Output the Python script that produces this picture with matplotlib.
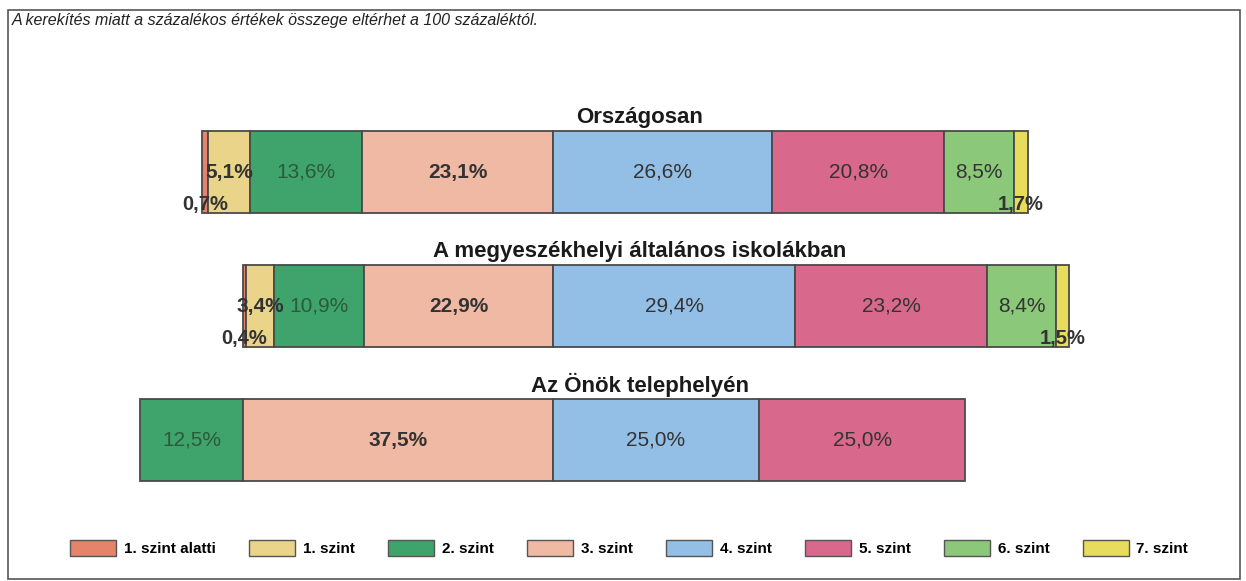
import matplotlib.pyplot as plt
from matplotlib.patches import Patch, Rectangle

plt.rcParams["font.family"] = ["Liberation Sans", "DejaVu Sans"]

szintek = ["1. szint alatti", "1. szint", "2. szint", "3. szint",
           "4. szint", "5. szint", "6. szint", "7. szint"]
szinek = ["#e5836b", "#e9d48a", "#3fa36c", "#f0b9a3",
          "#93bfe6", "#d8688c", "#8cc879", "#e8dc5c"]

csoportok = ["Országosan", "A megyeszékhelyi általános iskolákban",
             "Az Önök telephelyén"]
orszagos = [0.7, 5.1, 13.6, 23.1, 26.6, 20.8, 8.5, 1.7]
megyeszekhely = [0.4, 3.4, 10.9, 22.9, 29.4, 23.2, 8.4, 1.5]
telephely = [0.0, 0.0, 12.5, 37.5, 25.0, 25.0, 0.0, 0.0]

megjegyzes = "A kerekítés miatt a százalékos értékek összege eltérhet a 100 százaléktól."


def felirat(v):
    """Formata o valor com vírgula decimal"""
    return f"{v:.1f}%".replace(".", ",")


def plot_sav(i, ertekek, altura=0.61):
    """Desenha uma barra empilhada centrada entre o 3. e o 4. nível"""
    bal = -sum(ertekek[:4])
    for j, (v, cor) in enumerate(zip(ertekek, szinek)):
        if v <= 0:
            continue
        plt.barh(i, v, left=bal, height=altura, color=cor,
                 edgecolor="#4a4a4a", linewidth=1.3)
        kozep = bal + v / 2
        if v < 2:
            plt.text(kozep, i + 0.24, felirat(v), ha="center", va="center",
                     fontsize=14.5, fontweight="bold", color="#333333")
        elif j == 2:
            plt.text(kozep, i, felirat(v), ha="center", va="center",
                     fontsize=15, color="#2b5a3c")
        else:
            suly = "bold" if j in (1, 3) else "normal"
            plt.text(kozep, i, felirat(v), ha="center", va="center",
                     fontsize=15, fontweight=suly, color="#333333")
        bal += v
    plt.text(10.5, i - 0.41, csoportok[i], ha="center", va="center",
             fontsize=16, fontweight="bold", color="#1a1a1a")


def main():
    largura = 12.46
    altura = 5.81
    fig = plt.figure(figsize=(largura, altura), dpi=100)
    ax = plt.axes([0, 0, 1, 1])

    for i, ertekek in enumerate([orszagos, megyeszekhely, telephely]):
        plot_sav(i, ertekek)

    plt.xlim(-67.0, 84.0)
    plt.ylim(3.052, -1.284)
    plt.axis("off")

    # moldura do gráfico
    fig.patches.append(Rectangle((8 / 1246, 0.004), 1232 / 1246, 1 - 10 / 581 - 0.004,
                                 transform=fig.transFigure, fill=False,
                                 edgecolor="#555555", linewidth=1.2))
    fig.text(12 / 1246, 1 - 20 / 581, megjegyzes, ha="left", va="center",
             fontsize=11.5, style="italic", color="#222222")

    kezelok = [Patch(facecolor=c, edgecolor="#555555", label=s)
               for c, s in zip(szinek, szintek)]
    fig.legend(handles=kezelok, loc="center", bbox_to_anchor=(0.505, 1 - 548 / 581),
               ncol=8, frameon=False, handlelength=3.0,
               handleheight=1.3, columnspacing=2.2, handletextpad=0.5,
               prop={"weight": "bold", "size": 11})

    plt.savefig("out.png", dpi=100)


if __name__ == "__main__":
    main()
